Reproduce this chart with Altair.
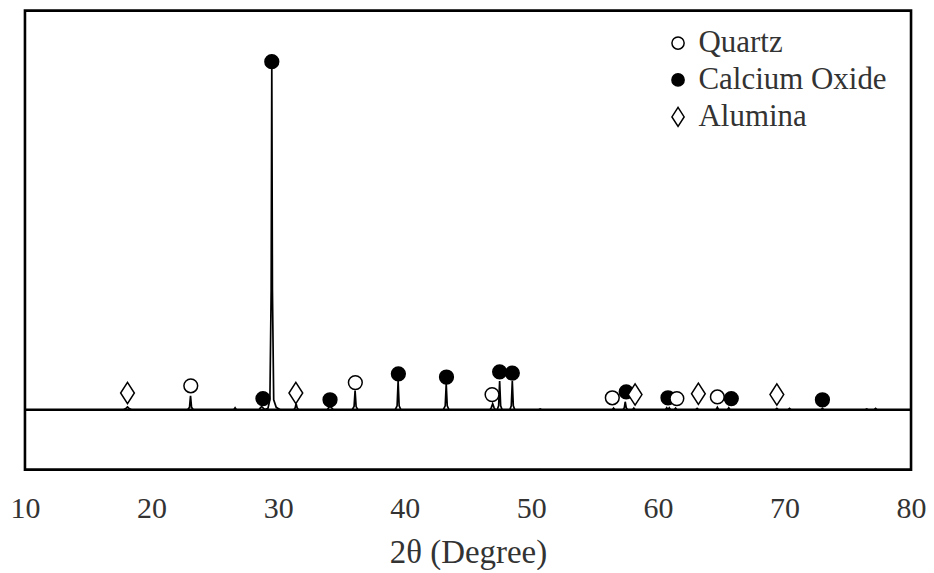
import altair as alt
import pandas as pd

# XRD pattern (2-theta in degrees, intensity in arbitrary units)
two_theta = [10.0, 17.8, 18.0, 18.1, 18.2, 18.4,
             22.85, 23.0, 23.08, 23.16, 23.3,
             26.5, 26.6, 26.7,
             28.5, 28.6, 28.7, 28.8, 28.95,
             29.2, 29.35, 29.45, 29.5, 29.55, 29.65, 29.85, 30.15,
             31.25, 31.35, 31.42, 31.5, 31.6,
             33.9, 34.0, 34.1, 34.2, 34.35,
             35.85, 36.0, 36.08, 36.16, 36.3,
             39.25, 39.4, 39.48, 39.56, 39.7,
             43.05, 43.2, 43.28, 43.36, 43.5,
             46.75, 46.85, 46.95, 47.05, 47.15,
             47.3, 47.42, 47.5, 47.58, 47.7,
             48.3, 48.42, 48.5, 48.58, 48.7,
             50.6, 50.7, 50.8,
             56.4, 56.5, 56.6,
             57.25, 57.35, 57.42, 57.5, 57.6,
             58.0, 58.1, 58.2,
             60.6, 60.7, 60.8, 60.9, 61.0,
             61.3, 61.4, 61.5,
             63.0, 63.1, 63.2,
             64.6, 64.7, 64.8,
             65.5, 65.6, 65.7,
             69.3, 69.4, 69.5,
             70.3, 70.4, 70.5,
             72.9, 73.0, 73.1,
             76.4, 76.5, 76.6,
             77.1, 77.2, 77.3,
             80.0]
intensity = [0, 0, 4, 7, 4, 0,
             0, 6, 35, 6, 0,
             0, 5, 0,
             0, 5, 8, 5, 0,
             4, 25, 300, 870, 300, 25, 6, 0,
             0, 5, 15, 5, 0,
             0, 6, 8, 6, 0,
             0, 8, 48, 8, 0,
             0, 10, 72, 10, 0,
             0, 10, 65, 10, 0,
             0, 6, 15, 6, 0,
             0, 10, 72, 10, 0,
             0, 10, 72, 10, 0,
             0, 2, 0,
             0, 4, 0,
             0, 5, 20, 5, 0,
             0, 4, 0,
             0, 5, 0, 5, 0,
             0, 4, 0,
             0, 3, 0,
             0, 6, 0,
             0, 5, 0,
             0, 3, 0,
             0, 3, 0,
             0, 3, 0,
             0, 2, 0,
             0, 3, 0,
             0]

# Phase identification markers
marker_phase = ["Alumina", "Quartz", "Calcium Oxide", "Calcium Oxide", "Alumina",
                "Calcium Oxide", "Quartz", "Calcium Oxide", "Calcium Oxide", "Quartz",
                "Calcium Oxide", "Calcium Oxide", "Quartz", "Calcium Oxide", "Alumina",
                "Calcium Oxide", "Quartz", "Alumina", "Quartz", "Calcium Oxide",
                "Alumina", "Calcium Oxide"]
marker_theta = [18.1, 23.1, 28.8, 29.5, 31.4,
                34.1, 36.1, 39.5, 43.3, 46.9,
                47.5, 48.5, 56.4, 57.5, 58.2,
                60.8, 61.5, 63.2, 64.7, 65.8,
                69.4, 73.0]
marker_y = [42, 60, 28, 872, 42,
            25, 68, 90, 82, 38,
            95, 92, 30, 45, 38,
            30, 28, 40, 32, 28,
            38, 25]

phases = ["Quartz", "Calcium Oxide", "Alumina"]
diamond = "M0,-1.55L1.0,0L0,1.55L-1.0,0Z"

pattern = pd.DataFrame({"theta": two_theta, "intensity": intensity})
markers = pd.DataFrame({"phase": marker_phase, "theta": marker_theta, "y": marker_y})
base = pd.DataFrame({"intensity": [0]})

FONT = "Liberation Serif"
xscale = alt.Scale(domain=[10, 80], nice=False)
yscale = alt.Scale(domain=[-150, 1000], nice=False)

xaxis = alt.Axis(values=[10, 20, 30, 40, 50, 60, 70, 80], format="d", grid=False,
                 domain=False, ticks=False, labelPadding=24, labelFlush=False,
                 labelFont=FONT, labelFontSize=30, labelColor="#333333",
                 title="2θ (Degree)", titleFont=FONT, titleFontSize=33,
                 titleFontWeight="normal", titleColor="#333333", titlePadding=13)

line = alt.Chart(pattern).mark_line(color="black", strokeWidth=1.7, interpolate="linear").encode(
    x=alt.X("theta:Q", scale=xscale, axis=xaxis),
    y=alt.Y("intensity:Q", scale=yscale, axis=None),
)

baseline = alt.Chart(base).mark_rule(color="black", strokeWidth=2.6).encode(
    y=alt.Y("intensity:Q", scale=yscale, axis=None),
)

legend = alt.Legend(title=None, orient="none", legendX=639, legendY=17,
                    labelFont=FONT, labelFontSize=31, labelColor="#333333", labelLimit=400,
                    symbolSize=150, symbolStrokeWidth=1.5,
                    labelOffset=5, rowPadding=5, padding=0)

points = alt.Chart(markers).mark_point(filled=True, strokeWidth=1.5,
                                       size=190, opacity=1).encode(
    x=alt.X("theta:Q", scale=xscale),
    y=alt.Y("y:Q", scale=yscale),
    shape=alt.Shape("phase:N", scale=alt.Scale(domain=phases, range=["circle", "circle", diamond]),
                    legend=legend),
    fill=alt.Fill("phase:N", scale=alt.Scale(domain=phases, range=["white", "black", "white"]),
                  legend=legend),
    stroke=alt.Stroke("phase:N", scale=alt.Scale(domain=phases, range=["black", "black", "black"]),
                      legend=legend),
)

chart = alt.layer(baseline, line, points).properties(
    width=888, height=460,
    autosize=alt.AutoSizeParams(type="none"),
    padding={"left": 17, "top": 2, "right": 15, "bottom": 100},
    background="white",
).configure_view(stroke="black", strokeWidth=2.6)

chart.save("out.html", embed_options={"renderer": "svg", "actions": False})
